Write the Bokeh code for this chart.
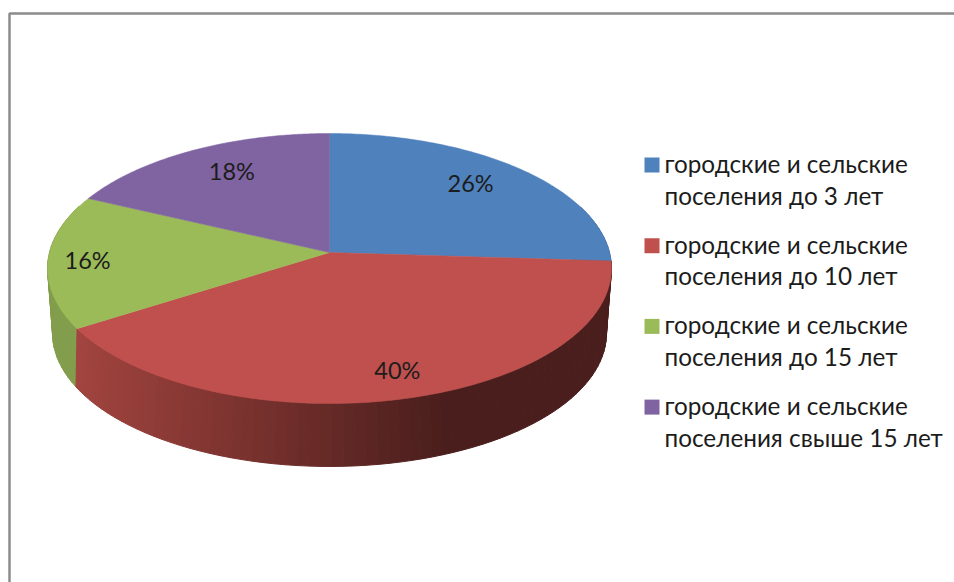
import numpy as np
from bokeh.plotting import figure
from bokeh.models import Range1d
from bokeh.core.properties import value
from bokeh.embed import file_html
from bokeh.resources import INLINE

# ---- chart data
categories = ["городские и сельские\nпоселения до 3 лет",
              "городские и сельские\nпоселения до 10 лет",
              "городские и сельские\nпоселения до 15 лет",
              "городские и сельские\nпоселения свыше 15 лет"]
shares = [26, 40, 16, 18]
colors = ["#4F81BD", "#C0504D", "#9BBB59", "#8064A2"]
label_radius = [0.76, 0.83, 0.86, 0.75]
label_nudge_x = [-5, 4, 0, 7]
label_nudge_y = [-4, -1, 0, -3]

FONT = value("Lato")
TXT = "#1c1c1c"
W, H = 954, 582
p = figure(width=W, height=H, output_backend="svg", toolbar_location=None,
           x_range=Range1d(0, W), y_range=Range1d(H, 0),
           x_axis_type=None, y_axis_type=None, min_border=0,
           background_fill_color="white", border_fill_color="white")
p.grid.visible = False
p.outline_line_color = None

# perspective projection of a disc (t clockwise from 12 o'clock)
CX = 329
def proj(t, r=1.0, rx=280.0, ry=133.1, y0=252.0, k=0.1185):
    u, v = r * np.sin(t), -r * np.cos(t)
    w = 1 / (1 - k * v)
    return CX + rx * u * w, y0 + ry * v * w
def top(t, r=1.0):
    return proj(t, r)
def bottom(t):
    return proj(t, 1.0, 272.9, 129.2, 310.3, 0.17)

edges = np.cumsum([0] + shares) / sum(shares) * 2 * np.pi

def mix(c1, c2, f):
    a = [int(c1[i:i+2], 16) for i in (1, 3, 5)]
    b = [int(c2[i:i+2], 16) for i in (1, 3, 5)]
    return "#%02x%02x%02x" % tuple(int(round(x + (y - x) * f)) for x, y in zip(a, b))

# side wall, in strips: shade runs with the screen position
xs, ys, cs = [], [], []
for i, col in enumerate(colors):
    a, b = edges[i], edges[i + 1]
    n = max(2, int(np.degrees(b - a) / 2))
    ts = np.linspace(a, b, n + 1)
    for t0, t1 in zip(ts[:-1], ts[1:]):
        tx0, ty0 = top(t0); tx1, ty1 = top(t1)
        bx0, by0 = bottom(t0); bx1, by1 = bottom(t1)
        if np.cos((t0 + t1) / 2) > 0.35:   # far side, hidden
            continue
        mx = (tx0 + tx1) / 2
        if i == 1:
            f = np.clip((mx - 75) / (440 - 75), 0, 1)
            c = mix("#A3443F", "#4A1E1C", f)
        else:
            c = mix(col, "#000000", 0.16)
        xs.append([tx0, tx1, bx1, bx0]); ys.append([ty0, ty1, by1, by0]); cs.append(c)
order = sorted(range(len(xs)), key=lambda j: max(ys[j]))
p.patches([xs[j] for j in order], [ys[j] for j in order],
          fill_color=[cs[j] for j in order], line_color=[cs[j] for j in order], line_width=1)

# top face
for i, col in enumerate(colors):
    ts = np.linspace(edges[i], edges[i + 1], 120)
    x, y = top(ts)
    ax, ay = top(0.0, 0.0)
    p.patch(np.r_[ax, x], np.r_[ay, y], fill_color=col, line_color=col, line_width=0.5)

# data labels
mids = (edges[:-1] + edges[1:]) / 2
lx, ly = [], []
for m, r, dx, dy in zip(mids, label_radius, label_nudge_x, label_nudge_y):
    a, b = top(m, r)
    lx.append(a + dx); ly.append(b + dy)
p.text(lx, ly, text=[f"{s}%" for s in shares], text_font=FONT, text_font_size="23.5px",
       text_color=TXT, text_align="center", text_baseline="middle")

# legend
row0, pair_step, line_step = 165.0, 80.7, 31.5
for i, (c, lab) in enumerate(zip(colors, categories)):
    y = row0 + i * pair_step
    p.rect([651.5], [y - 0.5], width=15, height=15, fill_color=c, line_color=None)
    l1, l2 = lab.split("\n")
    p.text([664, 664], [y - 2, y - 2 + line_step], text=[l1, l2], text_font=FONT, text_font_size="24.3px",
           text_color=TXT, text_align="left", text_baseline="middle")

# chart frame
p.line([9, 9, W], [H, 13, 13], line_color="#8C8C8C", line_width=2.5)

open("out.html", "w").write(file_html(p, INLINE))
